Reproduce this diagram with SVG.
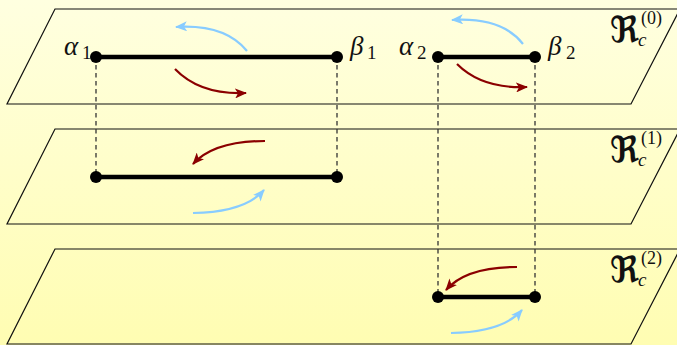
<svg xmlns="http://www.w3.org/2000/svg" width="677" height="345" viewBox="0 0 677 345">
<defs>
<linearGradient id="bg" x1="0" y1="0" x2="0" y2="1">
<stop offset="0" stop-color="#ffffe0"/>
<stop offset="1" stop-color="#fffdb2"/>
</linearGradient>
<marker id="hb" viewBox="0 0 12 10" refX="11" refY="5" markerWidth="12" markerHeight="10" markerUnits="userSpaceOnUse" orient="auto">
<path d="M0,0 L12,5 L0,10 L3,5 Z" fill="#88ccff"/>
</marker>
<marker id="hr" viewBox="0 0 12 10" refX="11" refY="5" markerWidth="12" markerHeight="10" markerUnits="userSpaceOnUse" orient="auto">
<path d="M0,0 L12,5 L0,10 L3,5 Z" fill="#8b0000"/>
</marker>
</defs>
<style>
.plane{fill:none;stroke:#111;stroke-width:1.2}
.dash{stroke:#333;stroke-width:1.3;stroke-dasharray:4.5 3.5;fill:none}
.seg{stroke:#000;stroke-width:4.5}
.dot{fill:#000}
.blue{fill:none;stroke:#88ccff;stroke-width:2.2;marker-end:url(#hb)}
.red{fill:none;stroke:#8b0000;stroke-width:2.2;marker-end:url(#hr)}
.gr{font-family:"Liberation Serif","DejaVu Serif",serif;font-style:italic;font-size:27px;fill:#111}
.sub{font-family:"Liberation Serif",serif;font-size:19px;fill:#111}
.fr{font-family:"DejaVu Serif","DejaVu Sans",serif;font-weight:bold;font-size:36px;fill:#111}
.ci{font-family:"Liberation Serif",serif;font-style:italic;font-size:19px;fill:#111}
.sup{font-family:"Liberation Serif",serif;font-size:18px;fill:#111}
</style>
<rect x="0" y="0" width="677" height="345" fill="url(#bg)"/>
<g id="plane0">
<polygon class="plane" points="55,9 680,9 631,104 7,104"/>
<text x="610" y="42" class="fr">ℜ</text><text x="638" y="46" class="ci">c</text><text x="641" y="24" class="sup">(0)</text>
</g>
<g id="plane1">
<polygon class="plane" points="55,129 680,129 631,224 7,224"/>
<text x="610" y="162" class="fr">ℜ</text><text x="638" y="166" class="ci">c</text><text x="641" y="144" class="sup">(1)</text>
</g>
<g id="plane2">
<polygon class="plane" points="55,249 680,249 631,344 7,344"/>
<text x="610" y="282" class="fr">ℜ</text><text x="638" y="286" class="ci">c</text><text x="641" y="264" class="sup">(2)</text>
</g>
<g id="connectors">
<line class="dash" x1="96" y1="57" x2="96" y2="177"/>
<line class="dash" x1="337" y1="57" x2="337" y2="177"/>
<line class="dash" x1="438" y1="57" x2="438" y2="297"/>
<line class="dash" x1="535" y1="57" x2="535" y2="297"/>
<path class="blue" d="M247,51 Q225,24 176,27"/>
<path class="red" d="M175,69 Q200,95 246,93"/>
<path class="blue" d="M523,44 Q502,17 452,20"/>
<path class="red" d="M457,64 Q482,89 527,87"/>
<path class="red" d="M265,141 Q214,141 193,164"/>
<path class="blue" d="M193,213 Q245,212 264,190"/>
<path class="red" d="M517,267 Q466,267 446,290"/>
<path class="blue" d="M451,333 Q503,332 522,310"/>
</g>
<g id="seg1-top">
<line class="seg" x1="96" y1="57" x2="337" y2="57"/>
<circle class="dot" cx="96" cy="57" r="6"/><circle class="dot" cx="337" cy="57" r="6"/>
<text x="64" y="55" class="gr">α</text><text x="82" y="59" class="sub">1</text>
<text x="350" y="55" class="gr">β</text><text x="367" y="59" class="sub">1</text>
</g>
<g id="seg2-top">
<line class="seg" x1="438" y1="57" x2="535" y2="57"/>
<circle class="dot" cx="438" cy="57" r="6"/><circle class="dot" cx="535" cy="57" r="6"/>
<text x="399" y="55" class="gr">α</text><text x="417" y="59" class="sub">2</text>
<text x="548" y="55" class="gr">β</text><text x="566" y="59" class="sub">2</text>
</g>
<g id="seg1-mid">
<line class="seg" x1="96" y1="177" x2="337" y2="177"/>
<circle class="dot" cx="96" cy="177" r="6"/><circle class="dot" cx="337" cy="177" r="6"/>
</g>
<g id="seg2-bot">
<line class="seg" x1="438" y1="297" x2="535" y2="297"/>
<circle class="dot" cx="438" cy="297" r="6"/><circle class="dot" cx="535" cy="297" r="6"/>
</g>
</svg>
